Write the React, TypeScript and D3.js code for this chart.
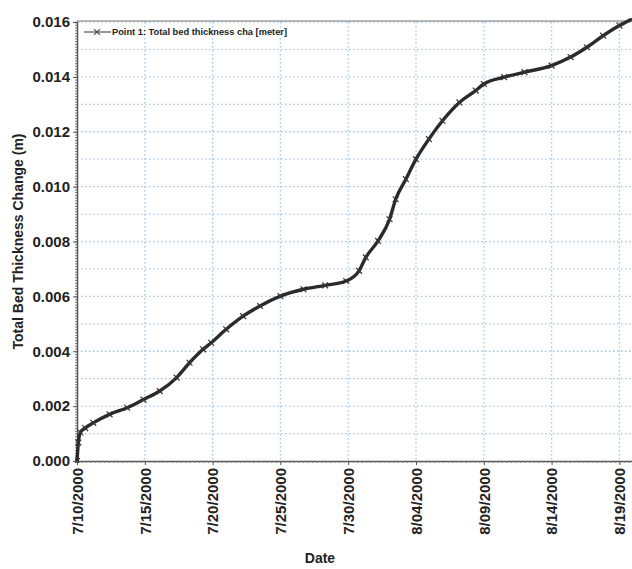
import { useRef, useEffect } from "react";
import * as d3 from "d3";

// days after 7/10/2000 00:00
const dayOffsets = [
  0, 0.1, 0.25, 0.6, 1.2, 2.4, 3.7, 4.9, 6.1, 7.35, 8.3, 9.3, 9.9, 11, 12.25,
  13.5, 15, 16.7, 18.3, 19.85, 20.8, 21.3, 22.2, 23.05, 23.5, 24.25, 25, 25.95,
  26.95, 28.2, 29.4, 30, 31.5, 33, 35, 36.4, 37.6, 38.8, 40, 40.9,
];
const thickness = [
  0, 0.00067, 0.00104, 0.0012, 0.00139, 0.0017, 0.00194, 0.00224, 0.00255,
  0.00304, 0.00358, 0.00407, 0.00431, 0.0048, 0.00528, 0.00565, 0.00601,
  0.00626, 0.0064, 0.00656, 0.00693, 0.00742, 0.00802, 0.00881, 0.00954,
  0.01027, 0.011, 0.01173, 0.0124, 0.01307, 0.0135, 0.01374, 0.01399, 0.01417,
  0.01441, 0.01472, 0.01508, 0.0155, 0.01587, 0.0161,
];
const yTicks = [0, 0.002, 0.004, 0.006, 0.008, 0.01, 0.012, 0.014, 0.016];
const tickDays = [0, 5, 10, 15, 20, 25, 30, 35, 40];
const legendLabel = "Point 1: Total bed thickness cha [meter]";

const START = new Date(2000, 6, 10);
const toDate = (d: number) => new Date(START.getTime() + d * 864e5);

export default function App() {
  const svgRef = useRef<SVGSVGElement>(null);

  useEffect(() => {
    if (!svgRef.current) return;
    const svg = d3.select(svgRef.current);
    svg.selectAll("*").remove();

    const width = 632;
    const height = 569;
    const left = 77;
    const top = 22;
    const bottom = 461;
    const dayPx = 13.56;
    const endDay = 41.3;

    const x = d3
      .scaleTime()
      .domain([START, toDate(endDay)])
      .range([left, left + endDay * dayPx]);
    const y = d3.scaleLinear().domain([0, 0.016]).range([bottom, top]);

    const font = "Arial, 'Liberation Sans', sans-serif";
    const gridColor = "#9cc6ec";

    svg.attr("width", width).attr("height", height).style("font-family", font);
    svg.append("rect").attr("width", width).attr("height", height).attr("fill", "#fff");

    // horizontal grid every 0.001
    const hGrid = d3.range(1, 17).map((i) => i * 0.001);
    svg
      .append("g")
      .selectAll("line")
      .data(hGrid)
      .join("line")
      .attr("x1", left)
      .attr("x2", width)
      .attr("y1", (d) => y(d))
      .attr("y2", (d) => y(d))
      .attr("stroke", gridColor)
      .attr("stroke-width", 1.3)
      .attr("stroke-dasharray", "1.5,2.5");

    // vertical grid at major date ticks
    svg
      .append("g")
      .selectAll("line")
      .data(tickDays.slice(1))
      .join("line")
      .attr("x1", (d) => x(toDate(d)))
      .attr("x2", (d) => x(toDate(d)))
      .attr("y1", top)
      .attr("y2", bottom)
      .attr("stroke", gridColor)
      .attr("stroke-width", 1.3)
      .attr("stroke-dasharray", "1.5,2.5");

    // frame
    svg
      .append("line")
      .attr("x1", left)
      .attr("x2", width)
      .attr("y1", top - 1)
      .attr("y2", top - 1)
      .attr("stroke", "#777")
      .attr("stroke-width", 1.2);

    // y axis
    const yAxis = svg
      .append("g")
      .attr("transform", `translate(${left},0)`)
      .call(
        d3
          .axisLeft(y)
          .tickValues(d3.range(0, 161).map((i) => i * 0.0001))
          .tickSize(2)
          .tickFormat(() => ""),
      );
    yAxis.select(".domain").attr("stroke", "#555").attr("stroke-width", 1.5);
    yAxis.selectAll(".tick line").attr("stroke", "#777");
    svg
      .append("g")
      .attr("transform", `translate(${left},0)`)
      .call(
        d3
          .axisLeft(y)
          .tickValues(yTicks)
          .tickSize(4)
          .tickPadding(3)
          .tickFormat((d) => d3.format(".3f")(Number(d))),
      )
      .call((g) => g.select(".domain").remove())
      .call((g) => g.selectAll(".tick line").attr("stroke", "#555"))
      .selectAll("text")
      .style("font-size", "15px")
      .style("font-weight", "bold")
      .style("font-family", font)
      .attr("fill", "#222");

    // x axis: minor ticks every 8 hours
    const xMinor = svg
      .append("g")
      .attr("transform", `translate(0,${bottom})`)
      .call(
        d3
          .axisBottom(x)
          .tickValues(d3.range(0, Math.floor(endDay * 3) + 1).map((i) => toDate(i / 3)))
          .tickSize(2)
          .tickFormat(() => ""),
      );
    xMinor.select(".domain").attr("stroke", "#555").attr("stroke-width", 1.5);
    xMinor.selectAll(".tick line").attr("stroke", "#777");
    const fmt = d3.timeFormat("%-m/%d/%Y");
    svg
      .append("g")
      .attr("transform", `translate(0,${bottom})`)
      .call(
        d3
          .axisBottom(x)
          .tickValues(tickDays.map(toDate))
          .tickSize(4)
          .tickFormat((d) => fmt(d as Date)),
      )
      .call((g) => g.select(".domain").remove())
      .call((g) => g.selectAll(".tick line").attr("stroke", "#555"))
      .selectAll("text")
      .attr("transform", "rotate(-90)")
      .attr("text-anchor", "end")
      .attr("x", -7)
      .attr("y", 0)
      .attr("dy", "0.35em")
      .style("font-size", "15px")
      .style("font-weight", "bold")
      .style("font-family", font)
      .attr("fill", "#222");

    // axis titles
    svg
      .append("text")
      .attr("transform", "rotate(-90)")
      .attr("x", -(top + bottom) / 2)
      .attr("y", 23)
      .attr("text-anchor", "middle")
      .style("font-size", "14px")
      .style("font-weight", "bold")
      .attr("fill", "#222")
      .text("Total Bed Thickness Change (m)");
    svg
      .append("text")
      .attr("x", 320)
      .attr("y", 563)
      .attr("text-anchor", "middle")
      .style("font-size", "14px")
      .style("font-weight", "bold")
      .attr("fill", "#222")
      .text("Date");

    // series
    const pts = dayOffsets.map((d, i) => ({ date: toDate(d), v: thickness[i] }));
    const line = d3
      .line<{ date: Date; v: number }>()
      .x((d) => x(d.date))
      .y((d) => y(d.v))
      .curve(d3.curveMonotoneX);
    svg
      .append("clipPath")
      .attr("id", "plot-clip")
      .append("rect")
      .attr("x", left - 2)
      .attr("y", top - 4)
      .attr("width", width)
      .attr("height", bottom - top + 6);
    const series = svg.append("g").attr("clip-path", "url(#plot-clip)");
    series
      .append("path")
      .datum(pts)
      .attr("d", line)
      .attr("fill", "none")
      .attr("stroke", "#2a2a2a")
      .attr("stroke-width", 3.4)
      .attr("stroke-linejoin", "round");
    // symbolTimes is a stroked symbol
    const cross = d3.symbol(d3.symbolTimes, 24);
    series
      .selectAll("path.mk")
      .data(pts)
      .join("path")
      .attr("class", "mk")
      .attr("d", cross)
      .attr("transform", (d) => `translate(${x(d.date)},${y(d.v)})`)
      .attr("fill", "none")
      .attr("stroke", "#333")
      .attr("stroke-width", 1.2);

    // legend
    const lg = svg.append("g").attr("transform", `translate(84,32)`);
    lg.append("line")
      .attr("x1", 0)
      .attr("x2", 27)
      .attr("stroke", "#555")
      .attr("stroke-width", 1.2);
    lg.append("path")
      .attr("d", d3.symbol(d3.symbolTimes, 24)())
      .attr("transform", "translate(13,0)")
      .attr("fill", "none")
      .attr("stroke", "#444")
      .attr("stroke-width", 1.1);
    lg.append("text")
      .attr("x", 28)
      .attr("y", 3)
      .style("font-size", "9px")
      .style("font-weight", "bold")
      .attr("fill", "#222")
      .attr("textLength", 175)
      .attr("lengthAdjust", "spacingAndGlyphs")
      .text(legendLabel);
  }, []);

  return <svg ref={svgRef} style={{ position: "absolute", left: 0, top: 0 }} />;
}
